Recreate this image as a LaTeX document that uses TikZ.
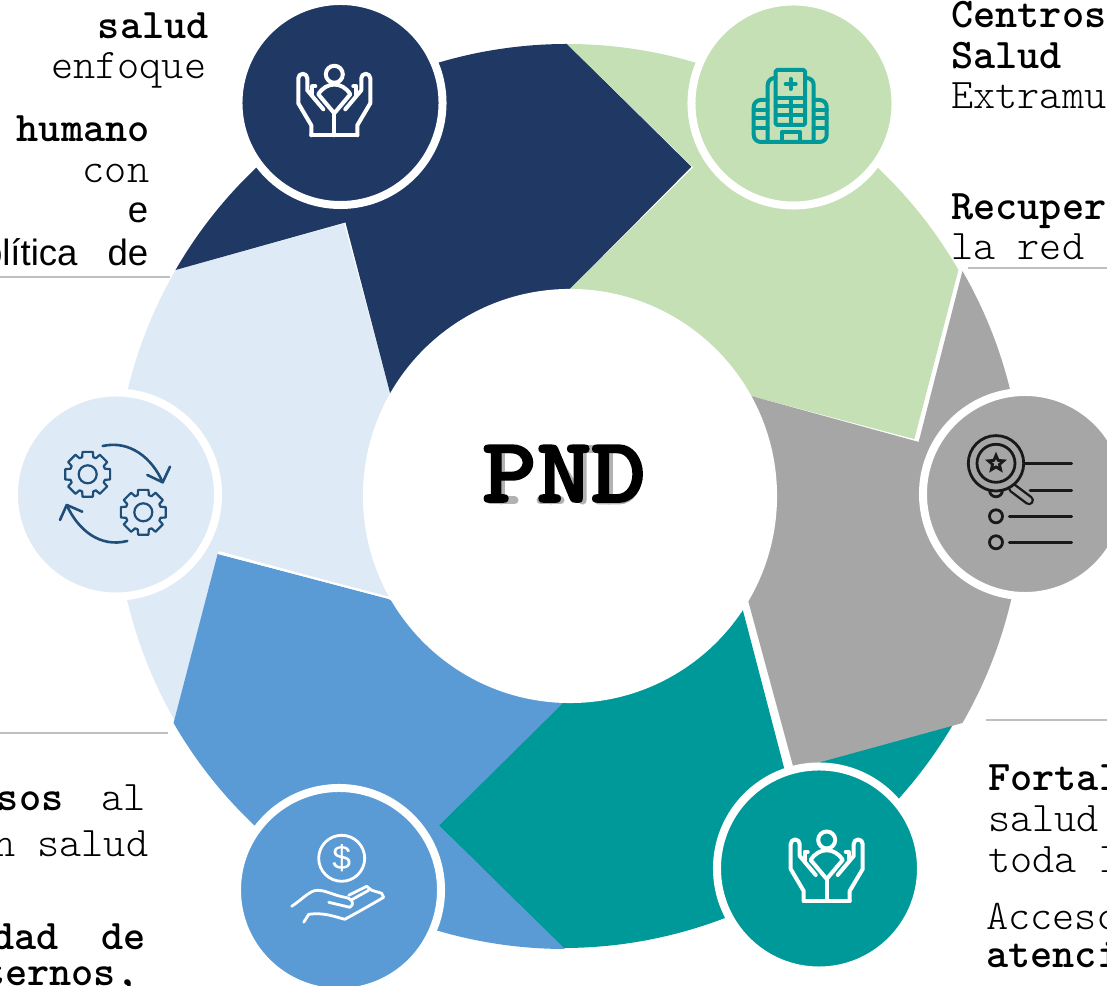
\documentclass[tikz,border=0pt]{standalone}
\usepackage{fontspec}
\setmainfont{Liberation Sans}
\setmonofont{Latin Modern Mono Light}
\newfontfamily\titlefont[FakeBold=2]{Latin Modern Mono Light}
\usetikzlibrary{shapes.geometric}
\definecolor{navyseg}{HTML}{1F3864}
\definecolor{greenseg}{HTML}{C5E0B4}
\definecolor{grayseg}{HTML}{A6A6A6}
\definecolor{tealseg}{HTML}{009999}
\definecolor{blueseg}{HTML}{5B9BD5}
\definecolor{lightseg}{HTML}{DEEAF6}
\definecolor{gearline}{HTML}{1F4E79}
\tikzstyle{badge} = [circle, minimum size=5.1cm, inner sep=0pt, draw=white, line width=0.2cm]
\tikzstyle{monotext} = [inner sep=0pt, font=\fontsize{30}{36}\selectfont\ttfamily, text=black]
\tikzstyle{monobold} = [monotext, font=\fontsize{30}{36}\selectfont\ttfamily\bfseries, text=black]
\tikzstyle{sanstext} = [inner sep=0pt, font=\fontsize{26}{30}\selectfont\rmfamily, text=black]
\tikzstyle{rulerline} = [draw=black!25, line width=0.05cm]
\tikzstyle{iconline} = [line width=0.1cm, line cap=round, line join=round]
% one chevron of the ring: rotation, colour, shift
\newcommand{\chevron}[3]{
\fill[#2, shift={#3}] (#1+150:452) arc[start angle=#1+150, end angle=#1+90, radius=452]
  -- (#1+69.3:352) -- (#1+90:204) -- (#1+150:204) -- (#1+129:352) -- cycle;
}
% hands around a person
\newcommand{\handsicon}[2]{
\begin{scope}[shift={#1}, iconline, draw=#2]
\draw (0,29) circle (8.5);
\draw (-16,9) .. controls (-8,22) and (8,22) .. (16,9) -- (0,-10) -- cycle;
\draw (0,-10) -- (0,-32);
\draw (-23,-32) -- (23,-32);
\foreach \side in {1,-1}{
\begin{scope}[xscale=\side]
\draw (-23,-32) -- (-23,-22) -- (-36,0) -- (-36,25) arc[start angle=180, end angle=0, radius=4.5] -- (-27,13) -- (-11,-6);
\draw (-22,8) -- (-22,17) -- (-19,17);
\end{scope}
}
\end{scope}
}
% one gear
\newcommand{\gearicon}[1]{
\begin{scope}[shift={#1}]
\draw (0,0) circle (9);
\draw (-18:18) \foreach \ang in {0,45,...,315}{ -- (\ang-18:18) -- (\ang-13:23) -- (\ang+13:23) -- (\ang+18:18) } -- cycle;
\end{scope}
}
\begin{document}
\begin{tikzpicture}[x=0.025cm, y=0.025cm]
\useasboundingbox (0,0) rectangle (1107,986);

% ring, centre at (567,490)
\begin{scope}[shift={(567,490)}]
\chevron{-300}{lightseg}{(0,0)}
\chevron{0}{navyseg}{(0,0)}
\chevron{-60}{greenseg}{(0,0)}
\chevron{-180}{tealseg}{(-4,0)}
\chevron{-120}{grayseg}{(4,-1)}
\chevron{-240}{blueseg}{(-2,-1)}
\end{scope}
\draw[white, line width=0.05cm] (218,433) -- (390,388);
\node (hub) [circle, fill=white, minimum size=10.35cm, inner sep=0pt] at (570,490) {};

% shadow strokes behind the title
\begin{scope}[black!30, line width=0.2cm, line cap=round, line join=round, shift={(2.5,-2.5)}]
\draw (488,539) -- (512,539) arc[start angle=90, end angle=-90, radius=13] -- (498,513);
\draw (498,539) -- (498,488);
\draw (488,488) -- (512,488);
\draw (543,539) -- (548,539) -- (548,488);
\draw (538,488) -- (558,488);
\draw (548,539) -- (580,488) -- (580,539);
\draw (570,539) -- (590,539);
\draw (596,539) -- (616,539) .. controls (642,539) and (642,488) .. (616,488) -- (596,488);
\draw (606,539) -- (606,488);
\end{scope}
% title
\node (title) [anchor=base, inner sep=0pt, text=black, font=\fontsize{66}{70}\titlefont\bfseries] at (564,484) {\scalebox{1.12}[1]{PND}};

% circles
\node (navyc) [badge, fill=navyseg] at (340.5,883) {};
\node (greenc) [badge, fill=greenseg] at (793.5,882.5) {};
\node (grayc) [badge, fill=grayseg] at (1025,492) {};
\node (lightc) [badge, fill=lightseg] at (116,491.5) {};
\node (bluec) [badge, fill=blueseg] at (339,96) {};
\node (tealc) [badge, fill=tealseg] at (819,117.5) {};

% icons
\handsicon{(334.3,882.7)}{white}
\handsicon{(826.7,117)}{white}

\begin{scope}[shift={(790.7,881)}, iconline, draw=tealseg]
\draw[rounded corners=1] (-15,35) rectangle (14.3,-20);
\draw[rounded corners=5] (-15,27) -- (-23,27) -- (-23,-37);
\draw[rounded corners=5] (14.3,27) -- (23,27) -- (23,-37);
\draw[rounded corners=5] (-23,5) -- (-37,5) -- (-37,-37) -- (36,-37) -- (36,5) -- (23,5);
\draw (-9,-36) -- (-9,-27) -- (9,-27) -- (9,-36);
\draw (-15,7) -- (14.3,7);
\draw (-15,-1) -- (14.3,-1);
\draw (-15,-10) -- (14.3,-10);
\draw (0,7) -- (0,-20);
\foreach \ypos in {-5,-13,-23}{
\draw (-37,\ypos) -- (-23,\ypos);
\draw (23,\ypos) -- (36,\ypos);
}
\draw[line width=0.1cm] (-5,21) -- (5,21);
\draw[line width=0.1cm] (0,16) -- (0,26);
\end{scope}

\begin{scope}[shift={(996,522.7)}, black!90, line width=0.07cm, line cap=round]
\draw (27,0) -- (75.7,0);
\draw (34,-27) -- (75.7,-27);
\draw (13.3,-53) -- (75.7,-53);
\draw (13.3,-79) -- (75.7,-79);
\draw (0,-53) circle (6.5);
\draw (0,-79) circle (6.5);
\draw (0,-27) circle (6.5);
\draw[line width=0.25cm] (17,-25) -- (33,-37);
\draw[grayseg, line width=0.13cm] (17,-25) -- (33,-37);
\draw[fill=grayseg] (0,0) circle (27.7);
\draw (0,0) circle (19);
\node (staricon) [star, star points=5, star point ratio=2.2, draw=black!90, line width=0.07cm, minimum size=0.4cm, inner sep=0pt] at (0,0) {};
\end{scope}

\begin{scope}[gearline, line width=0.055cm, line join=round, line cap=round]
\gearicon{(87.7,511.7)}
\gearicon{(143.3,473.7)}
\draw[line width=0.065cm] (102.7,540) .. controls (130,546) and (152,528) .. (162.7,503.7);
\draw[line width=0.065cm] (147.3,511) -- (162.7,503.7) -- (170,519.3);
\draw[line width=0.065cm] (127.3,445) .. controls (100,438) and (78,456) .. (66.7,481);
\draw[line width=0.065cm] (60,466) -- (66.7,481) -- (82.3,474.3);
\end{scope}

\begin{scope}[shift={(341.7,127.7)}, white, line width=0.07cm, line cap=round, line join=round]
\draw (0,0) circle (23);
\node (dollar) [inner sep=0pt, text=white, font=\fontsize{24}{24}\selectfont] at (0,0) {\$};
\draw (-50,-48) .. controls (-38,-40) and (-32,-32) .. (-24,-32) .. controls (-16,-32) and (-8,-37) .. (3,-39) .. controls (10,-40) and (14,-45) .. (8,-49) -- (-13,-44);
\draw (7,-37) -- (25,-28) -- (30,-32) -- (40,-35) -- (42,-39) .. controls (30,-46) and (18,-53) .. (3,-61) .. controls (-8,-58) and (-18,-54) .. (-33,-56) -- (-38,-64);
\draw (9,-42) -- (27,-32);
\end{scope}

% rules
\coordinate (ruleA) at (0,709);
\coordinate (ruleB) at (170,709);
\coordinate (ruleC) at (968,718);
\coordinate (ruleD) at (1107,718);
\coordinate (ruleE) at (0,253);
\coordinate (ruleF) at (168,253);
\coordinate (ruleG) at (986,266);
\coordinate (ruleH) at (1107,266);
\draw[rulerline] (ruleA) -- (ruleB);
\draw[rulerline] (ruleC) -- (ruleD);
\draw[rulerline] (ruleE) -- (ruleF);
\draw[rulerline] (ruleG) -- (ruleH);

% text left top
\node (ltA) [monobold, anchor=base east] at (209,947.5) {salud};
\node (ltB) [monotext, anchor=base east] at (206.5,907.5) {enfoque};
\node (ltC) [monobold, anchor=base east] at (150,844.5) {humano};
\node (ltD) [monotext, anchor=base east] at (149.5,803.5) {con};
\node (ltE) [sanstext, anchor=base east] at (148.5,763.5) {e};
\node (ltF) [sanstext, anchor=base east] at (148.5,720.5) {olítica\hspace{0.75cm}de};

% text right top
\node (rtA) [monobold, anchor=base west] at (951,958.5) {Centros};
\node (rtB) [monobold, anchor=base west] at (951,917.5) {Salud};
\node (rtC) [monotext, anchor=base west] at (951,877.5) {Extramu};
\node (rtD) [monobold, anchor=base west] at (951,766.5) {Recuper};
\node (rtE) [monotext, anchor=base west] at (951,726.5) {la red};

% text left bottom
\node (lbA) [monotext, anchor=base east] at (146,175.5) {\textbf{sos}\hspace{0.95cm}al};
\node (lbB) [monotext, anchor=base east] at (148.5,129.5) {n salud};
\node (lbC) [monobold, anchor=base east] at (146,36.5) {dad\hspace{1.07cm}de};
\node (lbD) [monobold, anchor=base east] at (138.5,0) {ternos,};

% text right bottom
\node (rbA) [monobold, anchor=base west] at (988,195.5) {Fortal};
\node (rbB) [monotext, anchor=base west] at (988,154.5) {salud};
\node (rbC) [monotext, anchor=base west] at (988,113.5) {toda l};
\node (rbD) [monotext, anchor=base west] at (986,56.5) {Acceso};
\node (rbE) [monobold, anchor=base west] at (986,18.5) {atenci};
\end{tikzpicture}
\end{document}
